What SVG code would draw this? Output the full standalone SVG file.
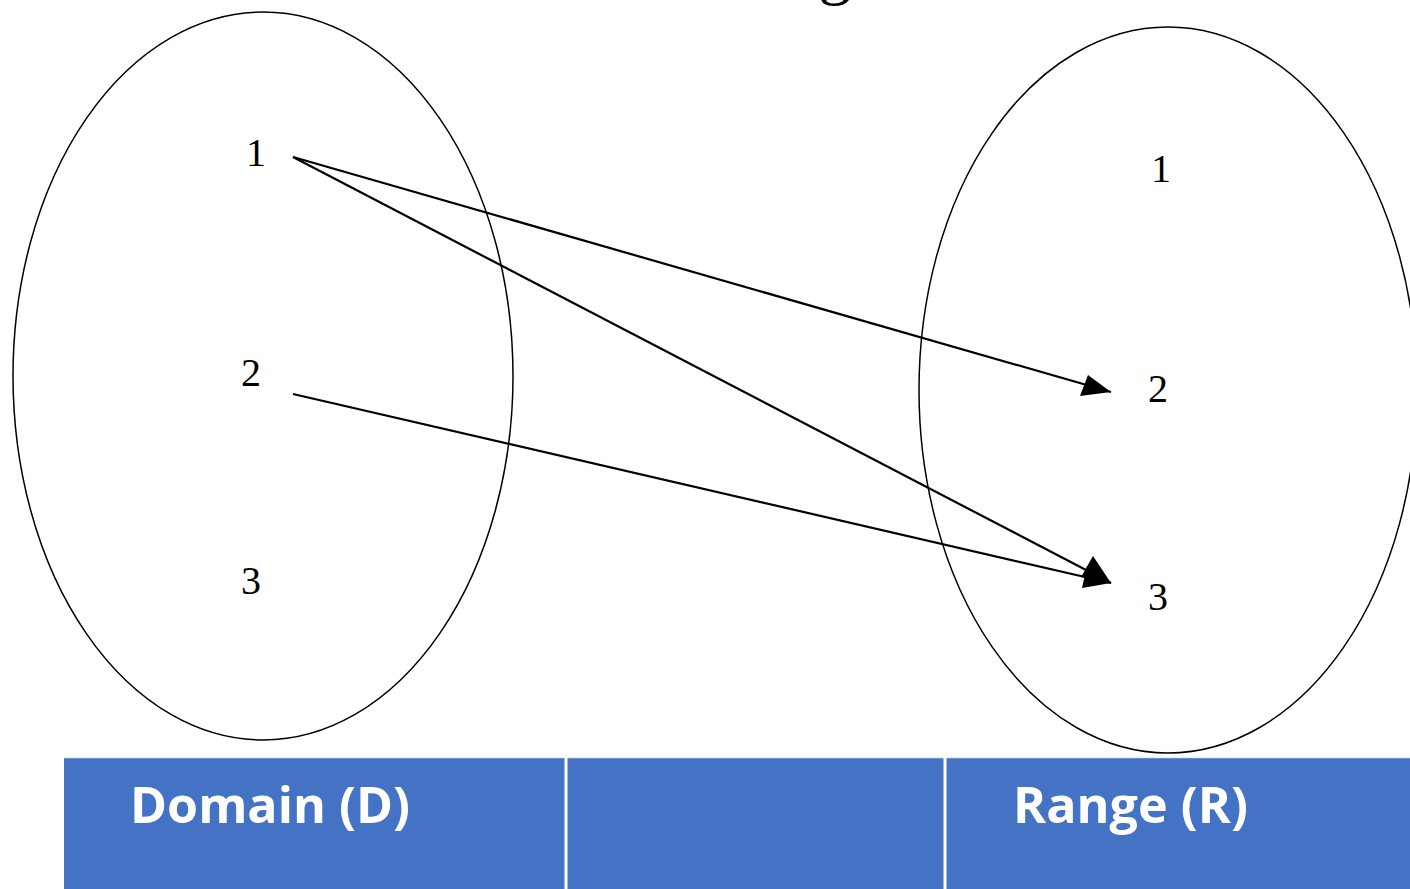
<svg xmlns="http://www.w3.org/2000/svg" width="1410" height="889" viewBox="0 0 1410 889">
  <style>
    .set { fill: none; stroke: #000; stroke-width: 1.5; }
    .num { font-family: "Liberation Serif", serif; font-size: 40px; fill: #000; text-anchor: middle; }
    .conn { stroke: #000; stroke-width: 2.2; fill: none; marker-end: url(#arr); }
    .hdr { font-family: "Open Sans", sans-serif; font-weight: bold; font-size: 50px; fill: #fff; }
    .cell { fill: #4472C4; }
  </style>
  <defs>
    <marker id="arr" viewBox="0 0 10 10" refX="10" refY="5" markerWidth="14" markerHeight="14" markerUnits="userSpaceOnUse" orient="auto" overflow="visible">
      <path d="M0,0 L10,5 L0,10 z" fill="#000" transform="scale(3)" />
    </marker>
  </defs>
  <rect width="1410" height="889" fill="#fff"/>
  <text x="835" y="-8" font-family="Liberation Serif, serif" font-size="66" text-anchor="middle">g</text>

  <g id="domain-set">
    <ellipse class="set" cx="263" cy="376" rx="250" ry="364"/>
    <text class="num" x="256" y="166">1</text>
    <text class="num" x="251" y="386">2</text>
    <text class="num" x="251" y="594">3</text>
  </g>
  <g id="range-set">
    <ellipse class="set" cx="1168" cy="390" rx="249" ry="363"/>
    <text class="num" x="1161" y="182">1</text>
    <text class="num" x="1158" y="402">2</text>
    <text class="num" x="1158" y="610">3</text>
  </g>

  <g id="connectors">
    <path d="M293,157 L1111,392" stroke="#000" stroke-width="2.2"/>
    <path d="M293,157 L1111,583" stroke="#000" stroke-width="2.2"/>
    <path d="M293,394 L1111,583" stroke="#000" stroke-width="2.2"/>
    <polygon points="1111,392 1080,396 1088,375"/>
    <polygon points="1111,583 1081,577 1093,556"/>
    <polygon points="1111,583 1082,588 1087,566"/>
  </g>

  <g id="table">
    <rect x="64" y="757" width="1346" height="132" fill="#4472C4"/>
    <line x1="64" y1="757.5" x2="1410" y2="757.5" stroke="#e8ecf4" stroke-width="1.5"/>
    <line x1="566" y1="757" x2="566" y2="889" stroke="#fff" stroke-width="3"/>
    <line x1="945" y1="757" x2="945" y2="889" stroke="#fff" stroke-width="3"/>
    <g id="cell-domain">
      <text class="hdr" x="130" y="823" textLength="280" lengthAdjust="spacingAndGlyphs">Domain (D)</text>
    </g>
    <g id="cell-range">
      <text class="hdr" x="1013" y="823" textLength="235" lengthAdjust="spacingAndGlyphs">Range (R)</text>
    </g>
  </g>
</svg>
